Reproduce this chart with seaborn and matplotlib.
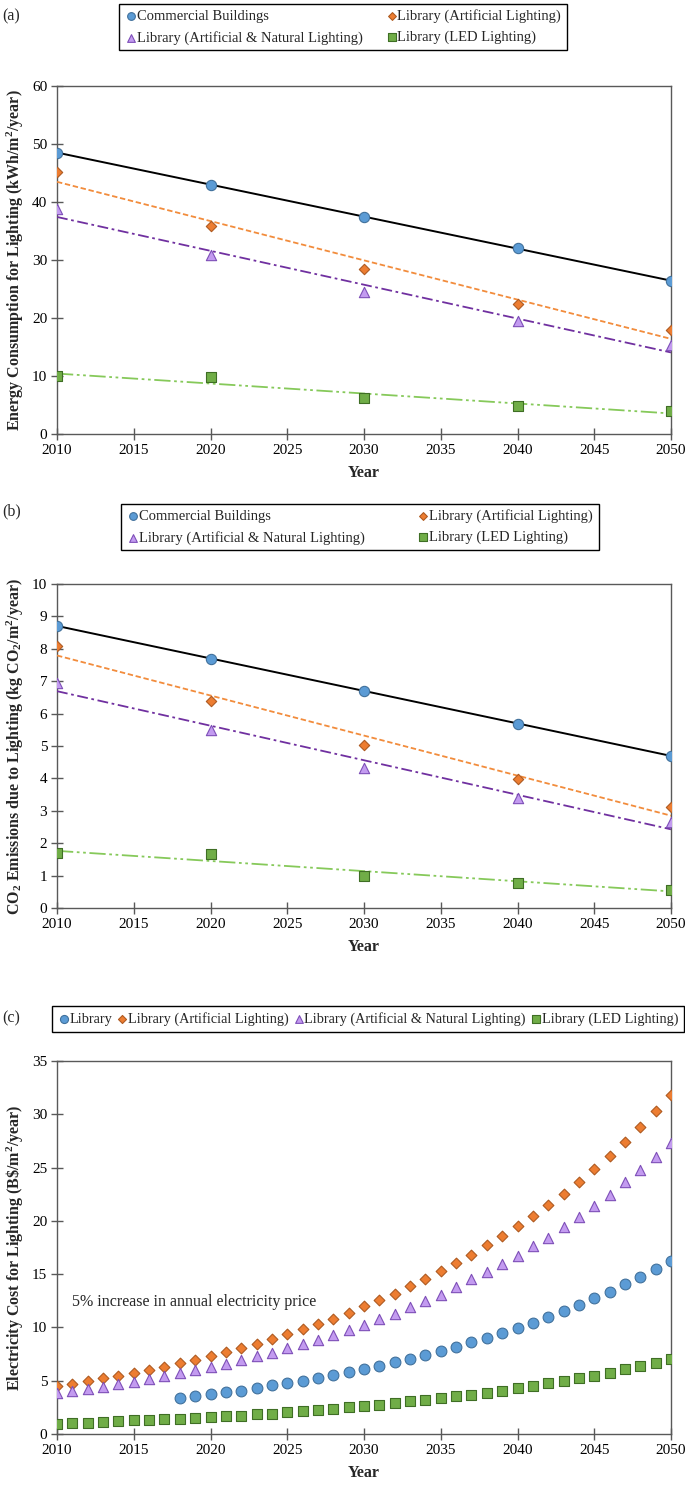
import numpy as np
import pandas as pd
import matplotlib
matplotlib.use("Agg")
import matplotlib.pyplot as plt
import seaborn as sns

# ---------------- data ----------------
years_dec = [2010, 2020, 2030, 2040, 2050]

energy_commercial = [48.5, 43.0, 37.5, 32.0, 26.4]
energy_artificial = [45.1, 35.8, 28.4, 22.5, 17.9]
energy_art_nat = [38.8, 30.8, 24.4, 19.4, 15.3]
energy_led = [10.0, 9.9, 6.2, 4.9, 3.9]

co2_commercial = [8.71, 7.70, 6.70, 5.69, 4.70]
co2_artificial = [8.09, 6.39, 5.04, 3.97, 3.12]
co2_art_nat = [6.95, 5.48, 4.31, 3.40, 2.66]
co2_led = [1.69, 1.66, 1.00, 0.77, 0.57]

years_all = list(range(2010, 2051))
years_lib = list(range(2018, 2051))
cost_library = [3.37, 3.52, 3.73, 3.93, 4.08, 4.32, 4.56, 4.79, 5.00, 5.27, 5.53,
                5.80, 6.09, 6.39, 6.72, 7.07, 7.43, 7.78, 8.20, 8.64, 9.02, 9.50,
                9.97, 10.44, 10.98, 11.54, 12.13, 12.75, 13.37, 14.05, 14.73, 15.47, 16.27]
cost_artificial = [4.50, 4.73, 4.94, 5.21, 5.47, 5.74, 6.04, 6.33, 6.63, 6.98, 7.31,
                   7.69, 8.08, 8.46, 8.93, 9.38, 9.85, 10.33, 10.83, 11.39, 11.98,
                   12.54, 13.17, 13.85, 14.53, 15.30, 16.04, 16.83, 17.69, 18.58, 19.50,
                   20.44, 21.48, 22.54, 23.67, 24.88, 26.12, 27.43, 28.82, 30.27, 31.78]
cost_art_nat = [3.85, 4.02, 4.20, 4.44, 4.67, 4.91, 5.18, 5.44, 5.71, 5.98, 6.30,
                6.60, 6.95, 7.28, 7.63, 8.05, 8.40, 8.85, 9.26, 9.76, 10.27,
                10.77, 11.30, 11.89, 12.46, 13.08, 13.76, 14.50, 15.18, 15.92, 16.72,
                17.60, 18.43, 19.38, 20.38, 21.39, 22.46, 23.61, 24.76, 26.01, 27.31]
cost_led = [0.95, 1.04, 1.07, 1.15, 1.21, 1.27, 1.30, 1.39, 1.45, 1.51, 1.57,
            1.66, 1.72, 1.83, 1.92, 2.04, 2.16, 2.28, 2.37, 2.49, 2.60,
            2.75, 2.90, 3.08, 3.20, 3.34, 3.52, 3.70, 3.88, 4.08, 4.29,
            4.53, 4.76, 4.97, 5.21, 5.47, 5.74, 6.07, 6.36, 6.69, 7.04]

lab_comm = "Commercial Buildings"
lab_lib = "Library"
lab_art = "Library (Artificial Lighting)"
lab_an = "Library (Artificial & Natural Lighting)"
lab_led = "Library (LED Lighting)"

# ---------------- style ----------------
sns.set_theme(style="ticks")
plt.rcParams["font.family"] = ["Liberation Serif", "DejaVu Serif"]
plt.rcParams["mathtext.fontset"] = "custom"
plt.rcParams["mathtext.rm"] = "Liberation Serif:bold"
plt.rcParams["mathtext.it"] = "Liberation Serif:italic:bold"
plt.rcParams["mathtext.bf"] = "Liberation Serif:bold"

C_BLUE, E_BLUE = "#5B9BD5", "#41719C"
C_ORG, E_ORG = "#ED7D31", "#AE5A21"
C_PUR, E_PUR = "#C39BF0", "#7E4FB8"
C_GRN, E_GRN = "#70AD47", "#3F6E25"
AX_COL = "#595959"

W, H = 685, 1491
fig = plt.figure(figsize=(W / 100, H / 100), dpi=100)


def add_axes(top_px, bottom_px, left_px=57, right_px=671):
    return fig.add_axes([left_px / W, 1 - bottom_px / H,
                         (right_px - left_px) / W, (bottom_px - top_px) / H])


def style_axes(ax, ymax, ystep, ylabel, top_px, bottom_px):
    ax.set_xlim(2010, 2050)
    ax.set_ylim(0, ymax)
    ax.set_xticks(range(2010, 2051, 5))
    ax.set_yticks(np.arange(0, ymax + ystep / 2, ystep))
    for s in ax.spines.values():
        s.set_visible(True)
        s.set_color(AX_COL)
        s.set_linewidth(1.0)
    ax.tick_params(direction="inout", length=8, width=1.0, color=AX_COL,
                   labelsize=11, labelcolor="black", pad=3)
    ax.set_xlabel("Year", fontsize=11.5, fontweight="bold")
    ax.set_ylabel(ylabel, fontsize=11.5, fontweight="bold")
    h = bottom_px - top_px
    ax.xaxis.set_label_coords(0.5, -(31) / h)
    ax.yaxis.set_label_coords(-31 / 614, 0.5)
    ax.grid(False)


def scat(ax, x, y, color, edge, marker, size, label):
    df = pd.DataFrame({"x": x, "y": y})
    sns.scatterplot(data=df, x="x", y="y", ax=ax, color=color, edgecolor=edge,
                    marker=marker, s=size, linewidth=0.8, label=label, zorder=4)


def trend(ax, x, y, color, dashes, lw=1.3):
    df = pd.DataFrame({"x": x, "y": y})
    line_kws = {"color": color, "lw": lw, "zorder": 3}
    if dashes is not None:
        line_kws["dashes"] = dashes
    sns.regplot(data=df, x="x", y="y", ax=ax, scatter=False, ci=None,
                line_kws=line_kws)


def decade_panel(ax, comm, art, an, led):
    trend(ax, years_dec, comm, "black", None, lw=1.4)
    trend(ax, years_dec, art, "#F28C3C", (3, 1.5))
    trend(ax, years_dec, an, "#7030A0", (6, 2, 1.5, 2))
    trend(ax, years_dec, led, "#86C95A", (9, 2, 1.5, 2, 1.5, 2))
    scat(ax, years_dec, comm, C_BLUE, E_BLUE, "o", 55, lab_comm)
    scat(ax, years_dec, an, C_PUR, E_PUR, "^", 55, lab_an)
    scat(ax, years_dec, art, C_ORG, E_ORG, "D", 28, lab_art)
    scat(ax, years_dec, led, C_GRN, E_GRN, "s", 50, lab_led)


def make_legend(ax, ncol, cx, cy, colsp, fontsize=10.5):
    handles, labels = ax.get_legend_handles_labels()
    ax.get_legend().remove()
    leg = fig.legend(handles, labels, loc="center", bbox_to_anchor=(cx / W, 1 - cy / H),
                     ncol=ncol, fontsize=fontsize, frameon=True, fancybox=False,
                     edgecolor="black", framealpha=1, handletextpad=0.0,
                     handlelength=0.8, columnspacing=colsp, markerscale=0.75,
                     borderpad=0.4, labelspacing=0.5)
    leg.get_frame().set_linewidth(1.0)
    return leg


# ---------------- panel (a) ----------------
axa = add_axes(86, 434)
decade_panel(axa, energy_commercial, energy_artificial, energy_art_nat, energy_led)
style_axes(axa, 60, 10, "Energy Consumption for Lighting (kWh/m$^2$/year)", 86, 434)
make_legend(axa, 2, 343, 27, 1.6)
fig.text(2 / W, 1 - 16 / H, "(a)", fontsize=11.5, va="center", ha="left")

# ---------------- panel (b) ----------------
axb = add_axes(584, 908)
decade_panel(axb, co2_commercial, co2_artificial, co2_art_nat, co2_led)
style_axes(axb, 10, 1,
           "CO$_2$ Emissions due to Lighting (kg CO$_2$/m$^2$/year)", 584, 908)
make_legend(axb, 2, 360, 527, 3.6)
fig.text(2 / W, 1 - 511 / H, "(b)", fontsize=11.5, va="center", ha="left")

# ---------------- panel (c) ----------------
axc = add_axes(1061, 1434)
scat(axc, years_lib, cost_library, C_BLUE, E_BLUE, "o", 60, lab_lib)
scat(axc, years_all, cost_artificial, C_ORG, E_ORG, "D", 30, lab_art)
scat(axc, years_all, cost_art_nat, C_PUR, E_PUR, "^", 55, lab_an)
scat(axc, years_all, cost_led, C_GRN, E_GRN, "s", 55, lab_led)
style_axes(axc, 35, 5, "Electricity Cost for Lighting (B\\$/m$^2$/year)", 1061, 1434)
axc.text(2011, 12.4, "5% increase in annual electricity price", fontsize=11.5,
         va="center", ha="left")
make_legend(axc, 4, 368, 1019, 0.3, fontsize=10.3)
fig.text(2 / W, 1 - 1018 / H, "(c)", fontsize=11.5, va="center", ha="left")

fig.savefig("out.png", dpi=100)
